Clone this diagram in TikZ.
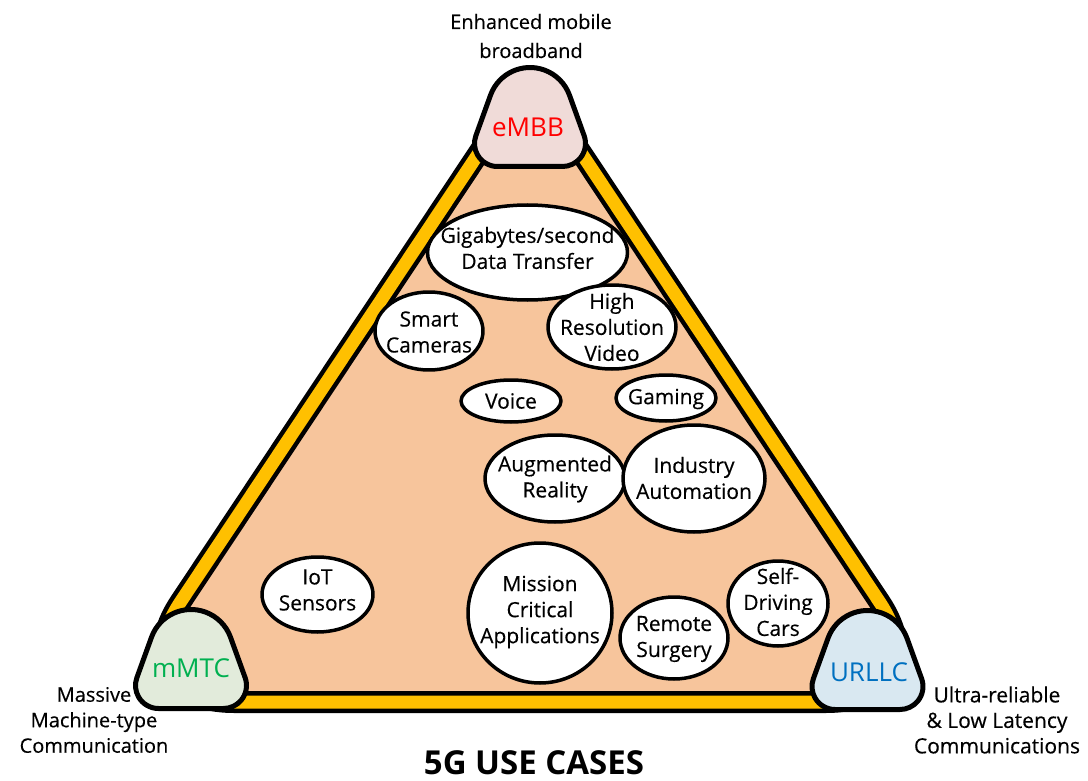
\documentclass[tikz,border=0pt]{standalone}
\usepackage{fontspec}
\setmainfont{Open Sans}
\newfontfamily\semifont{Open Sans}[FakeBold=0.35]
\usetikzlibrary{calc,shapes.geometric}
\definecolor{band}{RGB}{255,192,0}
\definecolor{peach}{RGB}{247,197,156}
\definecolor{embbfill}{RGB}{240,219,216}
\definecolor{mmtcfill}{RGB}{226,235,219}
\definecolor{urllcfill}{RGB}{217,232,241}
\definecolor{embbtxt}{RGB}{255,0,0}
\definecolor{mmtctxt}{RGB}{0,176,80}
\definecolor{urllctxt}{RGB}{0,112,192}
% rounded triangle: #1 prefix, #2 A, #3 B, #4 C, #5 dA, #6 dB, #7 dC, #8 style
\newcommand{\myrtri}[8]{%
  \coordinate (#1ab) at ($(#2)!#5!(#3)$);
  \coordinate (#1ac) at ($(#2)!#5!(#4)$);
  \coordinate (#1ba) at ($(#3)!#6!(#2)$);
  \coordinate (#1bc) at ($(#3)!#6!(#4)$);
  \coordinate (#1ca) at ($(#4)!#7!(#2)$);
  \coordinate (#1cb) at ($(#4)!#7!(#3)$);
  \path[#8] ($(#1ab)!0.5!(#1ba)$) -- (#1ba)
    .. controls ($(#1ba)!0.55!(#3)$) and ($(#1bc)!0.55!(#3)$) .. (#1bc) -- (#1cb)
    .. controls ($(#1cb)!0.55!(#4)$) and ($(#1ca)!0.55!(#4)$) .. (#1ca) -- (#1ac)
    .. controls ($(#1ac)!0.55!(#2)$) and ($(#1ab)!0.55!(#2)$) .. (#1ab) -- cycle;
}
% corner blob (hull of three circles): #1 centre x, #2 top circle centre y, #3 style
\newcommand{\mycorner}[3]{%
  \path[#3] ($({#1},{#2})+(200:42)$) arc[start angle=200, end angle=340, radius=42]
    -- ($({#1+32.5},{#2+34})+(340:23)$) arc[start angle=340, end angle=450, radius=23]
    -- ($({#1-32.5},{#2+34})+(90:23)$) arc[start angle=90, end angle=200, radius=23]
    -- cycle;
}
\begin{document}
\begin{tikzpicture}[x=1pt,y=-1pt,line join=round,
  bub/.style={ellipse, draw=black, line width=3.5pt, fill=white, inner sep=0pt},
  txt/.style={align=center, font=\semifont\fontsize{21}{26}\selectfont, inner sep=0pt},
  lside/.style={align=center, font=\semifont\fontsize{20}{25.5}\selectfont, inner sep=0pt},
  rside/.style={align=center, font=\semifont\fontsize{21}{25.5}\selectfont, inner sep=0pt},
  cornertxt/.style={font=\fontsize{26}{30}\selectfont, inner sep=0pt},
  cornerline/.style={draw=black, line width=5pt}]
\path[use as bounding box, fill=white] (0,0) rectangle (1088,781);

% big triangle
\coordinate (TA) at (530,76);
\coordinate (TB) at (946,702);
\coordinate (TC) at (114,702);
\myrtri{t}{TA}{TB}{TC}{80pt}{120pt}{120pt}{fill=peach}
\myrtri{t}{TA}{TB}{TC}{80pt}{120pt}{120pt}{draw=black, line width=22pt}
\myrtri{t}{TA}{TB}{TC}{80pt}{120pt}{120pt}{draw=band, line width=13pt}

% corner shapes
\mycorner{530}{109.5}{cornerline, fill=embbfill}
\mycorner{191}{651.5}{cornerline, fill=mmtcfill}
\mycorner{867.5}{652.5}{cornerline, fill=urllcfill}

\node[cornertxt, text=embbtxt] (embb) at (528,127) {eMBB};
\node[cornertxt, text=mmtctxt] (mmtc) at (191,668) {mMTC};
\node[cornertxt, text=urllctxt] (urllc) at (869,672) {URLLC};

% bubbles
\node[bub, minimum width=200pt, minimum height=95pt] (gig) at (527.5,252.5) {};
\node[bub, minimum width=108pt, minimum height=78pt] (smart) at (429,331) {};
\node[bub, minimum width=128pt, minimum height=84pt] (high) at (612,327) {};
\node[bub, minimum width=100pt, minimum height=42pt] (voice) at (511,401) {};
\node[bub, minimum width=100pt, minimum height=46pt] (gaming) at (666,398) {};
\node[bub, minimum width=140pt, minimum height=87pt] (aug) at (555,478.5) {};
\node[bub, minimum width=142pt, minimum height=107pt] (ind) at (694,478.5) {};
\node[bub, minimum width=111pt, minimum height=75pt] (iot) at (317.5,594.5) {};
\node[bub, minimum width=144pt, minimum height=140pt] (mission) at (540,613) {};
\node[bub, minimum width=108pt, minimum height=82pt] (remote) at (674,638) {};
\node[bub, minimum width=100pt, minimum height=85pt] (self) at (778,603.5) {};

\node[txt] (gigt) at (527.5,248) {Gigabytes/second\\Data Transfer};
\node[txt] (smartt) at (429,332) {Smart\\Cameras};
\node[txt] (hight) at (612,327) {High\\Resolution\\Video};
\node[txt] (voicet) at (511,401) {Voice};
\node[txt] (gamingt) at (666,399) {Gaming};
\node[txt] (augt) at (555,479) {Augmented\\Reality};
\node[txt] (indt) at (694,478) {Industry\\Automation};
\node[txt] (iott) at (317.5,590) {IoT\\Sensors};
\node[txt] (missiont) at (540,612) {Mission\\Critical\\Applications};
\node[txt] (remotet) at (674,639) {Remote\\Surgery};
\node[txt] (selft) at (778,602) {Self-\\Driving\\Cars};

% outer labels
\node[align=center, font=\semifont\fontsize{20}{29}\selectfont, inner sep=0pt] (embblab) at (531,36) {Enhanced mobile\\broadband};
\node[lside] (mmtclab) at (94,720) {Massive\\Machine-type\\Communication};
\node[rside] (urllclab) at (997,720) {Ultra-reliable\\\& Low Latency\\Communications};
\node[font=\fontsize{33}{40}\selectfont\bfseries, inner sep=0pt] (title) at (534,763) {5G USE CASES};
\end{tikzpicture}
\end{document}
